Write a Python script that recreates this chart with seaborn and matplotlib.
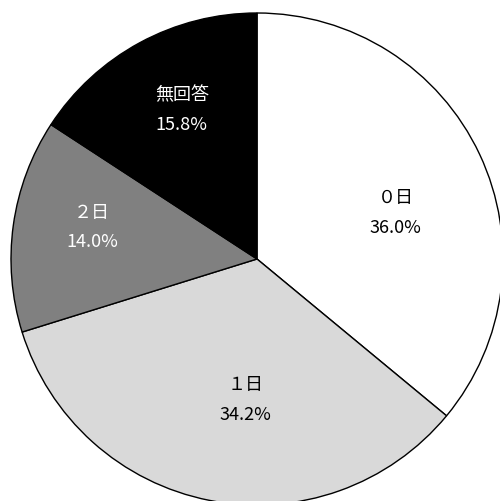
import matplotlib
matplotlib.use('Agg')
import matplotlib.pyplot as plt
import seaborn as sns
import numpy as np

categories = ['０日', '１日', '２日', '無回答']
shares = [36.0, 34.2, 14.0, 15.8]
slice_colors = ['#ffffff', '#d9d9d9', '#808080', '#000000']
text_colors = ['black', 'black', 'white', 'white']
label_dist = [0.596, 0.571, 0.683, 0.682]
label_turn = [-6.5, 6.3, -3.1, -1.8]

sns.set_style('white')
plt.rcParams['font.family'] = ['Noto Sans CJK JP', 'DejaVu Sans']

fig = plt.figure(figsize=(5.0, 5.02), dpi=100)
ax = fig.add_axes([0, 0, 1, 1])

cx, cy, r = 257, 242, 246
labels = [c + '\n' + f'{v:.1f}%' for c, v in zip(categories, shares)]
wedges, texts = ax.pie(shares, labels=labels, colors=slice_colors,
                       startangle=90, counterclock=False,
                       radius=r, center=(cx, cy),
                       labeldistance=0.63,
                       wedgeprops=dict(edgecolor='black', linewidth=1.0),
                       textprops=dict(fontsize=13, linespacing=1.8))

# excel-like label placement: centred text at a per-slice distance
for w, t, d, turn, c in zip(wedges, texts, label_dist, label_turn, text_colors):
    ang = np.deg2rad((w.theta1 + w.theta2) / 2 + turn)
    t.set_position((cx + d * r * np.cos(ang), cy + d * r * np.sin(ang)))
    t.set_ha('center')
    t.set_va('center')
    t.set_color(c)

ax.set_xlim(0, 500)
ax.set_ylim(0, 502)
ax.set_aspect('equal')
ax.axis('off')

fig.savefig('out.png', dpi=100, facecolor='white')
